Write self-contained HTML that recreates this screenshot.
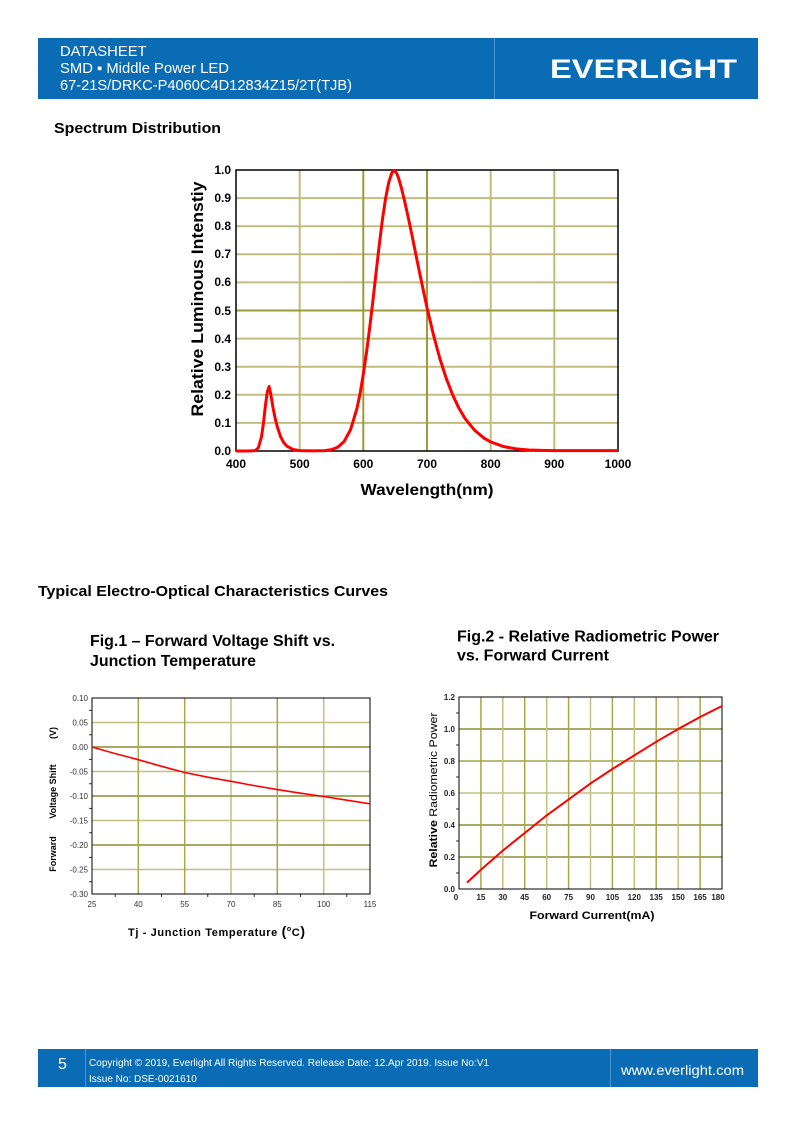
<!DOCTYPE html>
<html><head><meta charset="utf-8"><style>
html,body{margin:0;padding:0;background:#fff;}
svg{display:block;font-family:"Liberation Sans",Arial,sans-serif;}
</style></head><body>
<svg width="794" height="1123" viewBox="0 0 794 1123" xmlns="http://www.w3.org/2000/svg">
<!-- Header -->
<rect x="38" y="38" width="720" height="61" fill="#0a6cb5"/>
<line x1="494.5" y1="38" x2="494.5" y2="99" stroke="#4d94cf" stroke-width="1"/>
<g fill="#fff" font-size="14.8">
<text x="60" y="56">DATASHEET</text>
<text x="60" y="73">SMD ▪ Middle Power LED</text>
<text x="60" y="90" textLength="292" lengthAdjust="spacingAndGlyphs">67-21S/DRKC-P4060C4D12834Z15/2T(TJB)</text>
</g>
<text x="550" y="78" fill="#fff" font-size="27" font-weight="bold" textLength="187" lengthAdjust="spacingAndGlyphs">EVERLIGHT</text>

<!-- Section title -->
<text x="54" y="133" font-size="15" font-weight="bold" fill="#000" textLength="167" lengthAdjust="spacingAndGlyphs">Spectrum Distribution</text>

<!-- Spectrum chart -->
<g stroke-width="2">
<g stroke="#c2bd7c">
<line x1="236" y1="422.9" x2="618" y2="422.9"/>
<line x1="236" y1="394.8" x2="618" y2="394.8"/>
<line x1="236" y1="366.7" x2="618" y2="366.7"/>
<line x1="236" y1="338.6" x2="618" y2="338.6"/>
<line x1="236" y1="282.4" x2="618" y2="282.4"/>
<line x1="236" y1="254.3" x2="618" y2="254.3"/>
<line x1="236" y1="226.2" x2="618" y2="226.2"/>
<line x1="236" y1="198.1" x2="618" y2="198.1"/>
<line x1="299.7" y1="170" x2="299.7" y2="451"/>
<line x1="554.3" y1="170" x2="554.3" y2="451"/>
<line x1="490.7" y1="170" x2="490.7" y2="451"/>
</g>
<g stroke="#9e9a3a">
<line x1="236" y1="310.5" x2="618" y2="310.5"/>
<line x1="363.3" y1="170" x2="363.3" y2="451"/>
<line x1="427" y1="170" x2="427" y2="451"/>
</g>
</g>
<rect x="236" y="170" width="382" height="281" fill="none" stroke="#000" stroke-width="1.5"/>
<polyline fill="none" stroke="#ff0000" stroke-width="3" stroke-linejoin="round" points="236,451 248.7,451 255.1,450.6 258.3,447.9 261.5,436.8 263.4,423.5 265.3,406.6 267.2,392.3 269.1,386.4 270.4,392.3 271.7,399.6 272.9,406.9 274.8,416.7 277.4,427.1 280.6,436.7 283.8,442.6 286.9,446.2 293.3,449.6 299.7,450.6 312.4,450.9 325.1,450.6 331.5,449.6 337.9,447.1 344.2,441.4 350.6,429.6 357,408.3 360.2,392.9 363.3,374.3 366.5,352.4 369.7,327.6 372.9,300.7 376.1,272.6 379.2,245.3 382.4,219.7 385.6,198.4 388.8,182.1 392,172.5 394.5,170.5 396.4,172.8 398.4,177.6 401.5,188.3 404.7,201.5 407.9,215.8 411.1,231 414.3,246.7 417.5,262.5 420.7,277.9 423.9,293.1 427,307.7 433.4,334.5 439.7,358 446.1,377.9 452.5,394.5 458.8,408 465.2,418.7 474.8,430.4 484.3,438.3 490.7,441.9 503.4,446.5 516.1,448.9 528.9,450 541.6,450.4 554.3,450.6 618,450.6"/>
<g font-size="12" font-weight="bold" fill="#000" text-anchor="end">
<text x="231" y="455">0.0</text>
<text x="231" y="427">0.1</text>
<text x="231" y="399">0.2</text>
<text x="231" y="371">0.3</text>
<text x="231" y="343">0.4</text>
<text x="231" y="315">0.5</text>
<text x="231" y="286">0.6</text>
<text x="231" y="258">0.7</text>
<text x="231" y="230">0.8</text>
<text x="231" y="202">0.9</text>
<text x="231" y="174">1.0</text>
</g>
<g font-size="12" font-weight="bold" fill="#000" text-anchor="middle">
<text x="236" y="468">400</text>
<text x="299.7" y="468">500</text>
<text x="363.3" y="468">600</text>
<text x="427" y="468">700</text>
<text x="490.7" y="468">800</text>
<text x="554.3" y="468">900</text>
<text x="618" y="468">1000</text>
</g>
<text x="427" y="495" font-size="16" font-weight="bold" text-anchor="middle" textLength="133" lengthAdjust="spacingAndGlyphs">Wavelength(nm)</text>
<text transform="translate(203,299) rotate(-90)" font-size="17" font-weight="bold" text-anchor="middle" textLength="235" lengthAdjust="spacingAndGlyphs">Relative Luminous Intenstiy</text>

<!-- Section title 2 -->
<text x="38" y="596" font-size="15" font-weight="bold" textLength="350" lengthAdjust="spacingAndGlyphs">Typical Electro-Optical Characteristics Curves</text>

<!-- Fig titles -->
<g font-size="16" font-weight="bold">
<text x="90" y="646" textLength="245" lengthAdjust="spacingAndGlyphs">Fig.1 – Forward Voltage Shift vs.</text>
<text x="90" y="666" textLength="166" lengthAdjust="spacingAndGlyphs">Junction Temperature</text>
<text x="457" y="641.5" textLength="262" lengthAdjust="spacingAndGlyphs">Fig.2 - Relative Radiometric Power</text>
<text x="457" y="660.5" textLength="152" lengthAdjust="spacingAndGlyphs">vs. Forward Current</text>
</g>

<!-- Fig.1 chart -->
<g stroke-width="1.5">
<g stroke="#c4c080">
<line x1="92" y1="722.5" x2="370" y2="722.5"/>
<line x1="92" y1="771.5" x2="370" y2="771.5"/>
<line x1="92" y1="820.5" x2="370" y2="820.5"/>
<line x1="92" y1="869.5" x2="370" y2="869.5"/>
<line x1="231" y1="698" x2="231" y2="894"/>
<line x1="323.7" y1="698" x2="323.7" y2="894"/>
</g>
<g stroke="#8f8c2e">
<line x1="92" y1="747" x2="370" y2="747"/>
<line x1="92" y1="796" x2="370" y2="796"/>
<line x1="92" y1="845" x2="370" y2="845"/>
</g>
<g stroke="#aaa64c">
<line x1="138.3" y1="698" x2="138.3" y2="894"/>
<line x1="184.7" y1="698" x2="184.7" y2="894"/>
<line x1="277.3" y1="698" x2="277.3" y2="894"/>
</g>
</g>
<rect x="92" y="698" width="278" height="196" fill="none" stroke="#000" stroke-width="1"/>
<g stroke="#000" stroke-width="0.8">
<line x1="89" y1="710.3" x2="92" y2="710.3"/><line x1="89" y1="734.8" x2="92" y2="734.8"/>
<line x1="89" y1="759.3" x2="92" y2="759.3"/><line x1="89" y1="783.8" x2="92" y2="783.8"/>
<line x1="89" y1="808.3" x2="92" y2="808.3"/><line x1="89" y1="832.8" x2="92" y2="832.8"/>
<line x1="89" y1="857.3" x2="92" y2="857.3"/><line x1="89" y1="881.8" x2="92" y2="881.8"/>
<line x1="115.2" y1="894" x2="115.2" y2="897"/><line x1="161.5" y1="894" x2="161.5" y2="897"/>
<line x1="207.8" y1="894" x2="207.8" y2="897"/><line x1="254.2" y1="894" x2="254.2" y2="897"/>
<line x1="300.5" y1="894" x2="300.5" y2="897"/><line x1="346.8" y1="894" x2="346.8" y2="897"/>
</g>
<polyline fill="none" stroke="#ff0000" stroke-width="1.6" points="92,747 115.2,753.6 138.3,759.7 161.5,766.3 184.7,772.5 207.8,777.2 231,781.3 254.2,785.6 277.3,789.6 300.5,793.2 323.7,796.5 346.8,800.2 370,803.8"/>
<g font-size="8" fill="#333" text-anchor="end">
<text x="88" y="701">0.10</text>
<text x="88" y="725.5">0.05</text>
<text x="88" y="750">0.00</text>
<text x="88" y="774.5">-0.05</text>
<text x="88" y="799">-0.10</text>
<text x="88" y="823.5">-0.15</text>
<text x="88" y="848">-0.20</text>
<text x="88" y="872.5">-0.25</text>
<text x="88" y="897">-0.30</text>
</g>
<g font-size="8" fill="#333" text-anchor="middle">
<text x="92" y="907">25</text>
<text x="138.3" y="907">40</text>
<text x="184.7" y="907">55</text>
<text x="231" y="907">70</text>
<text x="277.3" y="907">85</text>
<text x="323.7" y="907">100</text>
<text x="370" y="907">115</text>
</g>
<g font-size="9" font-weight="bold" text-anchor="middle">
<text transform="translate(56,854) rotate(-90)">Forward</text>
<text transform="translate(56,791.5) rotate(-90)">Voltage Shift</text>
<text transform="translate(56,733) rotate(-90)">(V)</text>
</g>
<text x="128" y="936" font-size="11" font-weight="bold" textLength="177" lengthAdjust="spacing">Tj - Junction Temperature <tspan font-size="14">(</tspan><tspan font-size="7" dy="-5">o</tspan><tspan dy="5">C</tspan><tspan font-size="14">)</tspan></text>

<!-- Fig.2 chart -->
<g stroke-width="1.5">
<g stroke="#8f8c2e">
<line x1="459" y1="857" x2="722" y2="857"/>
<line x1="459" y1="825" x2="722" y2="825"/>
<line x1="459" y1="729" x2="722" y2="729"/>
</g>
<g stroke="#c4c080">
<line x1="459" y1="793" x2="722" y2="793"/>
</g>
<g stroke="#a6a248">
<line x1="459" y1="761" x2="722" y2="761"/>
</g>
<g stroke="#aaa64c">
<line x1="480.9" y1="697" x2="480.9" y2="889"/>
<line x1="524.7" y1="697" x2="524.7" y2="889"/>
<line x1="568.6" y1="697" x2="568.6" y2="889"/>
<line x1="612.4" y1="697" x2="612.4" y2="889"/>
<line x1="656.2" y1="697" x2="656.2" y2="889"/>
<line x1="700.1" y1="697" x2="700.1" y2="889"/>
</g>
<g stroke="#c4c080">
<line x1="502.8" y1="697" x2="502.8" y2="889"/>
<line x1="546.7" y1="697" x2="546.7" y2="889"/>
<line x1="590.5" y1="697" x2="590.5" y2="889"/>
<line x1="634.3" y1="697" x2="634.3" y2="889"/>
<line x1="678.2" y1="697" x2="678.2" y2="889"/>
</g>
</g>
<rect x="459" y="697" width="263" height="192" fill="none" stroke="#000" stroke-width="1"/>
<g stroke="#000" stroke-width="0.8">
<line x1="456" y1="873" x2="459" y2="873"/><line x1="456" y1="841" x2="459" y2="841"/>
<line x1="456" y1="809" x2="459" y2="809"/><line x1="456" y1="777" x2="459" y2="777"/>
<line x1="456" y1="745" x2="459" y2="745"/><line x1="456" y1="713" x2="459" y2="713"/>
</g>
<polyline fill="none" stroke="#ff0000" stroke-width="2" points="467,882.6 480.9,869.8 502.8,850.6 524.7,833 546.7,815.4 568.6,799.4 590.5,783.4 612.4,769 634.3,755.4 656.2,741.8 678.2,729 700.1,717 722,706"/>
<g font-size="8" font-weight="bold" fill="#222" text-anchor="end">
<text x="455" y="892">0.0</text>
<text x="455" y="860">0.2</text>
<text x="455" y="828">0.4</text>
<text x="455" y="796">0.6</text>
<text x="455" y="764">0.8</text>
<text x="455" y="732">1.0</text>
<text x="455" y="700">1.2</text>
</g>
<g font-size="8" font-weight="bold" fill="#222" text-anchor="middle">
<text x="456" y="900">0</text>
<text x="480.9" y="900">15</text>
<text x="502.8" y="900">30</text>
<text x="524.7" y="900">45</text>
<text x="546.7" y="900">60</text>
<text x="568.6" y="900">75</text>
<text x="590.5" y="900">90</text>
<text x="612.4" y="900">105</text>
<text x="634.3" y="900">120</text>
<text x="656.2" y="900">135</text>
<text x="678.2" y="900">150</text>
<text x="700.1" y="900">165</text>
<text x="718" y="900">180</text>
</g>
<text transform="translate(437,790) rotate(-90)" font-size="11" text-anchor="middle" textLength="155" lengthAdjust="spacingAndGlyphs"><tspan font-weight="bold">Relative</tspan> Radiometric Power</text>
<text x="592" y="919" font-size="11" font-weight="bold" text-anchor="middle" textLength="125" lengthAdjust="spacingAndGlyphs">Forward Current(mA)</text>

<!-- Footer -->
<rect x="38" y="1049" width="720" height="38" fill="#0a6cb5"/>
<line x1="85.5" y1="1049" x2="85.5" y2="1087" stroke="#4d94cf" stroke-width="1"/>
<line x1="610.5" y1="1049" x2="610.5" y2="1087" stroke="#4d94cf" stroke-width="1"/>
<text x="58" y="1069" fill="#fff" font-size="16">5</text>
<g fill="#fff" font-size="10">
<text x="89" y="1066" textLength="400" lengthAdjust="spacingAndGlyphs">Copyright © 2019, Everlight All Rights Reserved. Release Date: 12.Apr 2019. Issue No:V1</text>
<text x="89" y="1082">Issue No:  DSE-0021610</text>
</g>
<text x="621" y="1075" fill="#fff" font-size="14" textLength="123" lengthAdjust="spacingAndGlyphs">www.everlight.com</text>
</svg>
</body></html>
